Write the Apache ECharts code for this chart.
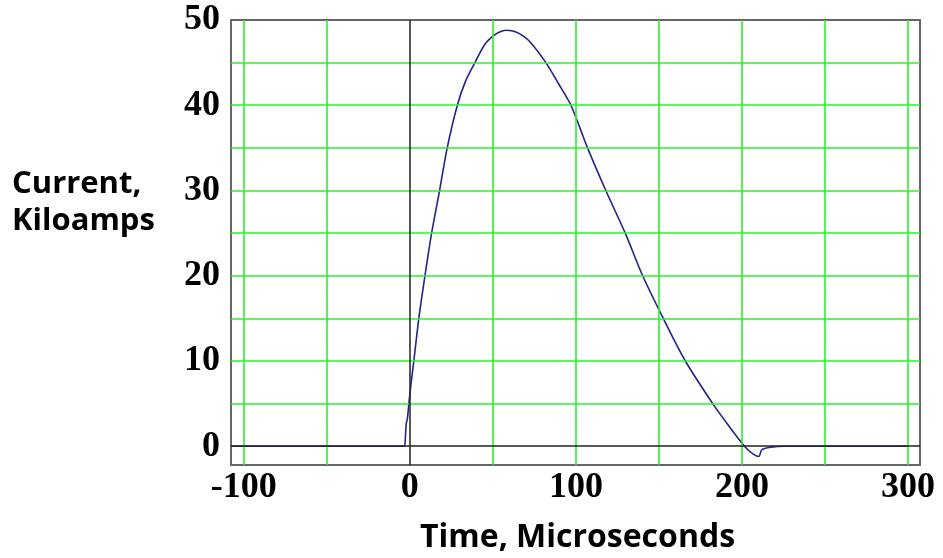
<!DOCTYPE html>
<html>
<head>
<meta charset="utf-8">
<script src="https://cdn.jsdelivr.net/npm/echarts@6/dist/echarts.min.js"></script>
<style>
  html, body { margin: 0; padding: 0; background: #fff; }
  #container { width: 943px; height: 558px; }
</style>
</head>
<body>
<div id="container"></div>
<script>
// time in microseconds, current in kiloamps
var timeUs = [-107.7, -3, -2.6, -2.2, -1.5, -0.6, 0.8, 2.4, 5.4, 9.1, 13.1, 17.9, 22.5, 28.6, 33.5,
  39.2, 45, 50, 54, 58, 62, 66, 72, 81.9, 89, 97, 107, 118, 129.7, 140.2, 152.6, 165.9, 182.4, 192,
  201.5, 206, 210.1, 212, 217.5, 225.6, 300];
var currentKA = [0, 0, 0, 2.6, 3.2, 5, 7.5, 10, 15, 20, 25, 30, 35, 40, 42.8,
  45, 47.1, 48.1, 48.6, 48.8, 48.7, 48.4, 47.5, 45, 42.7, 40, 35, 30, 25, 20, 15, 10, 5, 2.4,
  0, -0.8, -1.2, -0.4, -0.1, 0, 0];

var xTickLabels = [-100, 0, 100, 200, 300];
var yTickLabels = [0, 10, 20, 30, 40, 50];
var xGrid = [-100, -50, 50, 100, 150, 200, 250, 300];
var yGrid = [5, 10, 15, 20, 25, 30, 35, 40, 45];

var myChart = echarts.init(document.getElementById('container'));

var gridLines = [];
xGrid.forEach(function (v) { gridLines.push({ xAxis: v }); });
yGrid.forEach(function (v) { gridLines.push({ yAxis: v }); });

var labelFont = {
  fontFamily: 'Liberation Serif',
  fontWeight: 'bold',
  fontSize: 36,
  color: '#000'
};

myChart.setOption({
  animation: false,
  grid: {
    left: 231, right: 23, top: 20, bottom: 93,
    show: true,
    borderColor: '#666',
    borderWidth: 2,
    backgroundColor: '#fff'
  },
  xAxis: {
    type: 'value',
    min: -107.7,
    max: 307.2,
    axisLine: { show: false },
    axisTick: { show: false },
    splitLine: { show: false },
    axisLabel: Object.assign({ customValues: xTickLabels, margin: 5 }, labelFont)
  },
  yAxis: {
    type: 'value',
    min: -2.2,
    max: 50,
    axisLine: { show: false },
    axisTick: { show: false },
    splitLine: { show: false },
    axisLabel: Object.assign({ customValues: yTickLabels, margin: 11 }, labelFont)
  },
  graphic: [
    {
      type: 'text', left: 12, top: 166,
      style: {
        text: 'Current,\nKiloamps',
        font: 'bold 31px "Open Sans"',
        lineHeight: 37,
        fill: '#000'
      }
    },
    {
      type: 'text', left: 420, top: 522,
      style: {
        text: 'Time, Microseconds',
        font: 'bold 32px "Open Sans"',
        fill: '#000'
      }
    }
  ],
  series: [
    {
      type: 'line',
      data: [],
      z: 1,
      silent: true,
      markLine: {
        silent: true,
        symbol: 'none',
        label: { show: false },
        lineStyle: { color: '#2bf02b', width: 1.6, type: 'solid' },
        data: gridLines
      }
    },
    {
      type: 'line',
      data: [],
      z: 2,
      silent: true,
      markLine: {
        silent: true,
        symbol: 'none',
        label: { show: false },
        lineStyle: { color: '#222', width: 1.5, type: 'solid' },
        data: [{ xAxis: 0 }, { yAxis: 0 }]
      }
    },
    {
      name: 'Current',
      type: 'line',
      z: 3,
      showSymbol: false,
      smooth: 0.3,
      lineStyle: { color: '#23238f', width: 1.6 },
      data: timeUs.map(function (t, i) { return [t, currentKA[i]]; })
    }
  ]
});
</script>
</body>
</html>
